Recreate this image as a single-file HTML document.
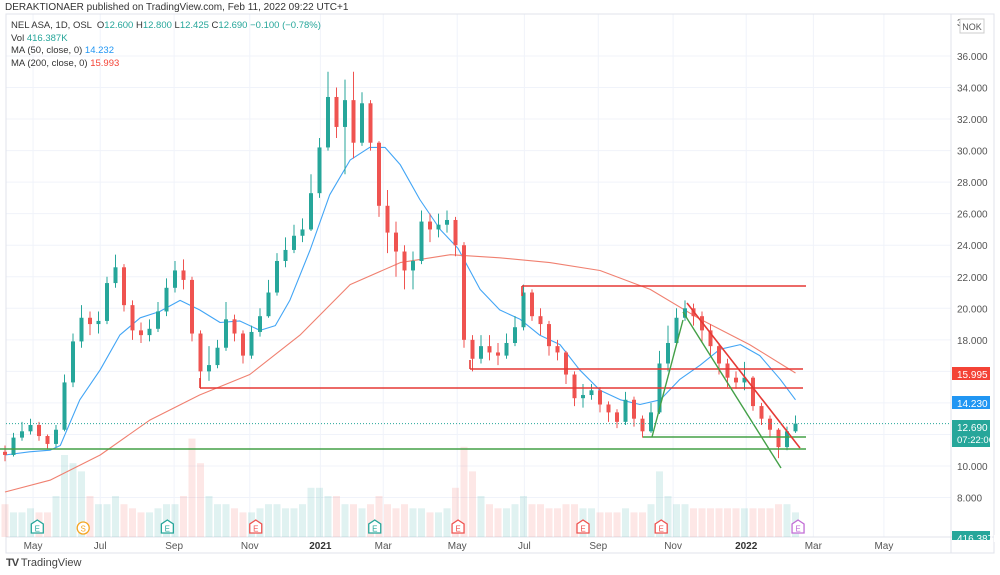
<!DOCTYPE html>
<html><head><meta charset="utf-8"><style>
body{margin:0;background:#fff;font-family:"Liberation Sans",sans-serif;}
#wrap{position:relative;width:1000px;height:575px;overflow:hidden;background:#fff}
svg text{font-family:"Liberation Sans",sans-serif}
</style></head><body>
<div id="wrap">
<svg id="chart" width="1000" height="575"></svg>
</div>
<script>
const closes=[10.7,11.8,12.2,12.6,11.9,11.4,12.3,15.3,17.9,19.4,19.0,19.2,21.6,22.6,20.2,18.6,18.3,18.7,19.8,21.3,22.4,21.8,18.4,16.0,16.4,17.5,19.3,18.4,17.0,18.5,19.5,21.0,23.0,23.7,24.6,25.0,27.3,30.2,33.4,31.5,33.2,30.5,33.0,30.5,26.5,24.8,23.6,22.4,23.0,25.5,25.0,25.3,25.6,24.0,18.0,16.8,17.6,17.2,17.0,17.8,18.8,21.0,19.5,19.0,17.6,17.2,15.8,14.3,14.5,14.8,13.9,13.4,12.8,14.2,13.0,12.2,13.4,16.5,17.8,19.4,20.0,19.5,18.6,17.6,16.5,15.6,15.3,15.6,13.8,13.0,12.3,11.2,12.2,12.69];
const highs=[11.3,12.1,12.8,13.0,12.8,12.0,12.6,15.8,18.4,20.2,19.8,19.8,22.0,23.4,22.8,20.5,19.1,19.3,20.4,21.9,23.0,23.1,22.0,18.6,17.6,18.0,20.4,19.6,18.6,18.9,20.0,21.8,23.5,24.5,25.3,25.7,28.5,30.8,35.0,34.0,34.5,35.0,33.7,33.2,30.6,27.5,25.5,24.0,23.6,26.2,26.0,26.0,26.2,25.8,24.2,18.3,18.3,18.3,17.8,18.4,19.5,21.5,21.2,20.0,19.2,18.0,17.3,16.0,15.2,15.2,15.0,14.1,13.6,14.7,14.4,13.2,14.0,17.3,18.9,20.0,20.5,20.3,19.8,19.0,17.8,16.8,16.0,16.6,15.7,14.0,13.2,12.4,12.5,13.2];
const lows=[10.3,10.6,11.6,12.0,11.6,11.1,11.2,12.2,15.0,17.5,18.3,18.4,19.0,21.3,19.8,18.0,17.8,17.9,18.5,19.5,21.0,21.2,17.9,14.9,15.4,16.2,17.3,17.9,16.5,16.8,18.2,19.4,20.8,22.6,23.5,24.2,24.9,27.0,30.0,30.8,28.5,29.5,30.3,30.0,25.8,23.5,22.0,21.2,21.2,22.8,24.2,24.5,24.8,23.3,17.5,16.0,16.5,16.7,16.4,16.8,17.6,18.6,19.2,18.3,17.0,16.7,15.2,13.8,13.7,14.2,13.4,12.8,12.4,12.6,12.5,11.8,12.1,13.3,16.0,17.6,19.2,18.9,17.8,16.9,15.8,15.0,14.9,14.8,13.5,12.6,11.8,10.5,11.0,12.1];
const volumes=[4,3,3,3.5,3,3,5,10,9,8,5,4,4,5,4,3.5,3,3,3.5,4,4,5,12,9,5,4,4,3.5,3,3,3.5,4,4,3.5,3.5,4,6,6,5,5,4,4,3.5,4,5,4,3.5,4,3.5,3.5,3,3,3.5,6,11,8,5,4,3.5,3.5,4,5,4,4,3.5,3.5,4,4,3.5,3.5,3,3,3,3.5,3,3,4,8,5,4,4,3.5,3.5,3.5,3.5,3.5,3.5,3.5,3.5,3.5,3.5,4,4,3];
const ma50Weeks=[0,2.9,5.3,6.5,8.8,11.2,13.5,15.9,18.2,20.6,22.9,25.3,27.6,30,31.8,33.5,35.9,38.2,40.6,42.9,44.7,46.5,48.8,51.2,53.3,55.9,58.2,60.6,62.9,65.3,67.6,70,72.4,74.7,77.1,79.4,81.8,84.1,86.5,88.8,91.2,93];
const ma50=[10.7,10.9,11.0,11.3,14.2,16.1,18.3,19.4,19.8,20.5,19.9,19.1,19.2,18.6,18.9,20.5,23.7,27.2,29.4,30.2,30.2,29.1,26.9,25.0,23.8,21.2,19.9,19.3,18.3,17.7,16.1,14.8,14.2,13.9,14.2,15.5,16.4,17.4,17.7,17.0,15.5,14.2];
const ma200Weeks=[0,5.3,11.2,17,22.9,28.8,34.7,40.6,46.5,52.4,58.2,64.1,70,75.9,81.8,87.6,93];
const ma200=[8.35,9.1,10.7,12.9,14.5,15.8,18.3,21.5,22.9,23.4,23.2,22.9,22.4,21.2,19.3,17.7,15.9];
const priceTicks=[8,10,12,14,16,18,20,22,24,26,28,30,32,34,36];
const monthLabels=["May","Jul","Sep","Nov","2021","Mar","May","Jul","Sep","Nov","2022","Mar","May"];
const monthWeeks=[3.3,11.2,19.9,28.8,37.1,44.5,53.2,61.1,69.8,78.6,87.2,95.1,103.4];
const eventWeeks=[3.8,9.2,19.1,29.5,43.5,53.3,68,77.2,93.3];
const eventKinds=["E","S","E","E","E","E","E","E","E"];
const eventColors=["#26a69a","#f5a623","#26a69a","#ef5350","#26a69a","#ef5350","#ef5350","#ef5350","#c26dd6"];

const NS="http://www.w3.org/2000/svg";
const svg=document.getElementById('chart');
const X=w=>5+8.5*w;
const Y=p=>466-(p-10)*15.77;
const VB=537, VS=8.2;
function el(tag,attrs,parent){const e=document.createElementNS(NS,tag);for(const k in attrs)e.setAttribute(k,attrs[k]);(parent||svg).appendChild(e);return e;}
function txt(s,attrs,parent){const e=el('text',attrs,parent);e.textContent=s;return e;}

const grid=el('g',{});


priceTicks.forEach(p=>el('line',{x1:6,x2:951,y1:Y(p),y2:Y(p),stroke:'#f0f3fa'},grid));
monthWeeks.forEach(w=>el('line',{x1:X(w),x2:X(w),y1:14,y2:537,stroke:'#f0f3fa'},grid));
el('rect',{x:6,y:14,width:988,height:539,fill:'none',stroke:'#e0e3eb'});
el('line',{x1:951,x2:951,y1:14,y2:553,stroke:'#e0e3eb'});
el('line',{x1:6,x2:994,y1:537,y2:537,stroke:'#e0e3eb'});

const vg=el('g',{});


volumes.forEach((v,i)=>{const o=i?closes[i-1]:10.9;const up=closes[i]>=o;
 const b=el('rect',{x:X(i)-3.5,y:VB-v*VS,width:7,height:v*VS,fill:up?'rgba(38,166,154,0.14)':'rgba(239,83,80,0.14)'},vg);
 
 
});

function line(ws,vs,color,name){const d=ws.map((w,i)=>(i?'L':'M')+X(w).toFixed(1)+' '+Y(vs[i]).toFixed(1)).join(' ');
 const p=el('path',{d:d,fill:'none',stroke:color,'stroke-width':1.1,'stroke-linejoin':'round'});
 
 }
line(ma50Weeks,ma50,'#42a5f5','ma50-line');
line(ma200Weeks,ma200,'#f08070','ma200-line');

const cg=el('g',{});


closes.forEach((c,i)=>{const o=i?closes[i-1]:10.9;const up=c>=o;const col=up?'#26a69a':'#ef5350';
 el('line',{x1:X(i),x2:X(i),y1:Y(highs[i]),y2:Y(lows[i]),stroke:col},cg);
 const top=Y(Math.max(o,c)),h=Math.max(1,Math.abs(Y(o)-Y(c)));
 const r=el('rect',{x:X(i)-2,y:top,width:4,height:h,fill:col},cg);
 
 
});

const dg=el('g',{});


[[522,806,286,'#e53935'],[470,803,369,'#e53935'],[200,803,388,'#e53935'],[643,806,437,'#43a047'],[0,806,449,'#43a047']].forEach(a=>el('line',{x1:a[0],x2:a[1],y1:a[2],y2:a[2],stroke:a[3],'stroke-width':1.6},dg));
el('line',{x1:200,x2:200,y1:388,y2:378,stroke:'#e53935','stroke-width':1.6},dg);
el('line',{x1:470,x2:470,y1:369,y2:360,stroke:'#e53935','stroke-width':1.6},dg);
el('line',{x1:522,x2:522,y1:286,y2:296,stroke:'#e53935','stroke-width':1.6},dg);
el('line',{x1:687,x2:800,y1:303,y2:448,stroke:'#e53935','stroke-width':1.6},dg);
el('line',{x1:683,x2:781,y1:312,y2:468,stroke:'#43a047','stroke-width':1.4},dg);
el('line',{x1:652,x2:683,y1:437,y2:320,stroke:'#43a047','stroke-width':1.4},dg);
el('line',{x1:6,x2:951,y1:Y(12.69),y2:Y(12.69),stroke:'#26a69a','stroke-dasharray':'1 2'},dg);

eventWeeks.forEach((w,i)=>{const g=el('g',{});
 
 
 const x=X(w),c=eventColors[i];
 if(eventKinds[i]==='S')el('circle',{cx:x,cy:528,r:6,fill:'#fff',stroke:c,'stroke-width':1.3},g);
 else el('path',{d:`M${x-6} 533V524L${x} 520L${x+6} 524V533Z`,fill:'#fff',stroke:c,'stroke-width':1.3},g);
 txt(eventKinds[i],{x:x,y:531.5,'font-size':8,fill:c,'text-anchor':'middle'},g);});

const ag=el('g',{});


priceTicks.forEach(p=>txt(p.toFixed(3),{x:957,y:Y(p)+4,'font-size':10,fill:'#555'},ag));
txt('38',{x:957,y:26,'font-size':10,fill:'#555'},ag);
el('rect',{x:960,y:19,width:24,height:14,fill:'#fff',stroke:'#ccc'},ag);
txt('NOK',{x:972,y:30,'font-size':9,fill:'#555','text-anchor':'middle'},ag);
function tag(y,h,col,t1,t2,name){const g=el('g',{});
 
 
 el('rect',{x:952,y:y,width:38,height:h,fill:col},g);
 txt(t1,{x:957,y:y+11,'font-size':10,fill:'#fff'},g);
 if(t2)txt(t2,{x:957,y:y+23,'font-size':9.5,fill:'#fff'},g);}
tag(367,13,'#f44336','15.995',null,'ma200-price-tag');
tag(396,13,'#2196f3','14.230',null,'ma50-price-tag');
tag(420,27,'#26a69a','12.690','07:22:06','last-price-tag');
tag(531,9,'#26a69a','416.387K',null,'volume-tag');

const tg=el('g',{});


monthLabels.forEach((m,i)=>txt(m,{x:X(monthWeeks[i]),y:549,'font-size':10,fill:m[0]==='2'?'#333':'#555','text-anchor':'middle','font-weight':m[0]==='2'?'bold':'normal'},tg));
</script>
<div style="position:absolute;left:5px;top:2px;font-size:10px;color:#333">DERAKTIONAER published on TradingView.com, Feb 11, 2022 09:22 UTC+1</div>
<div style="position:absolute;left:11px;top:20px;font-size:9.5px;color:#333;line-height:12.5px">
<div>NEL ASA, 1D, OSL &nbsp;O<span style="color:#26a69a">12.600</span> H<span style="color:#26a69a">12.800</span> L<span style="color:#26a69a">12.425</span> C<span style="color:#26a69a">12.690</span> <span style="color:#26a69a">−0.100 (−0.78%)</span></div>
<div>Vol <span style="color:#26a69a">416.387K</span></div>
<div>MA (50, close, 0) <span style="color:#2196f3">14.232</span></div>
<div>MA (200, close, 0) <span style="color:#f44336">15.993</span></div>
</div>
<div style="position:absolute;left:6px;top:557px;font-size:11px;color:#444"><b style="font-size:11px;letter-spacing:-1px">TV</b> TradingView</div>
</body></html>
